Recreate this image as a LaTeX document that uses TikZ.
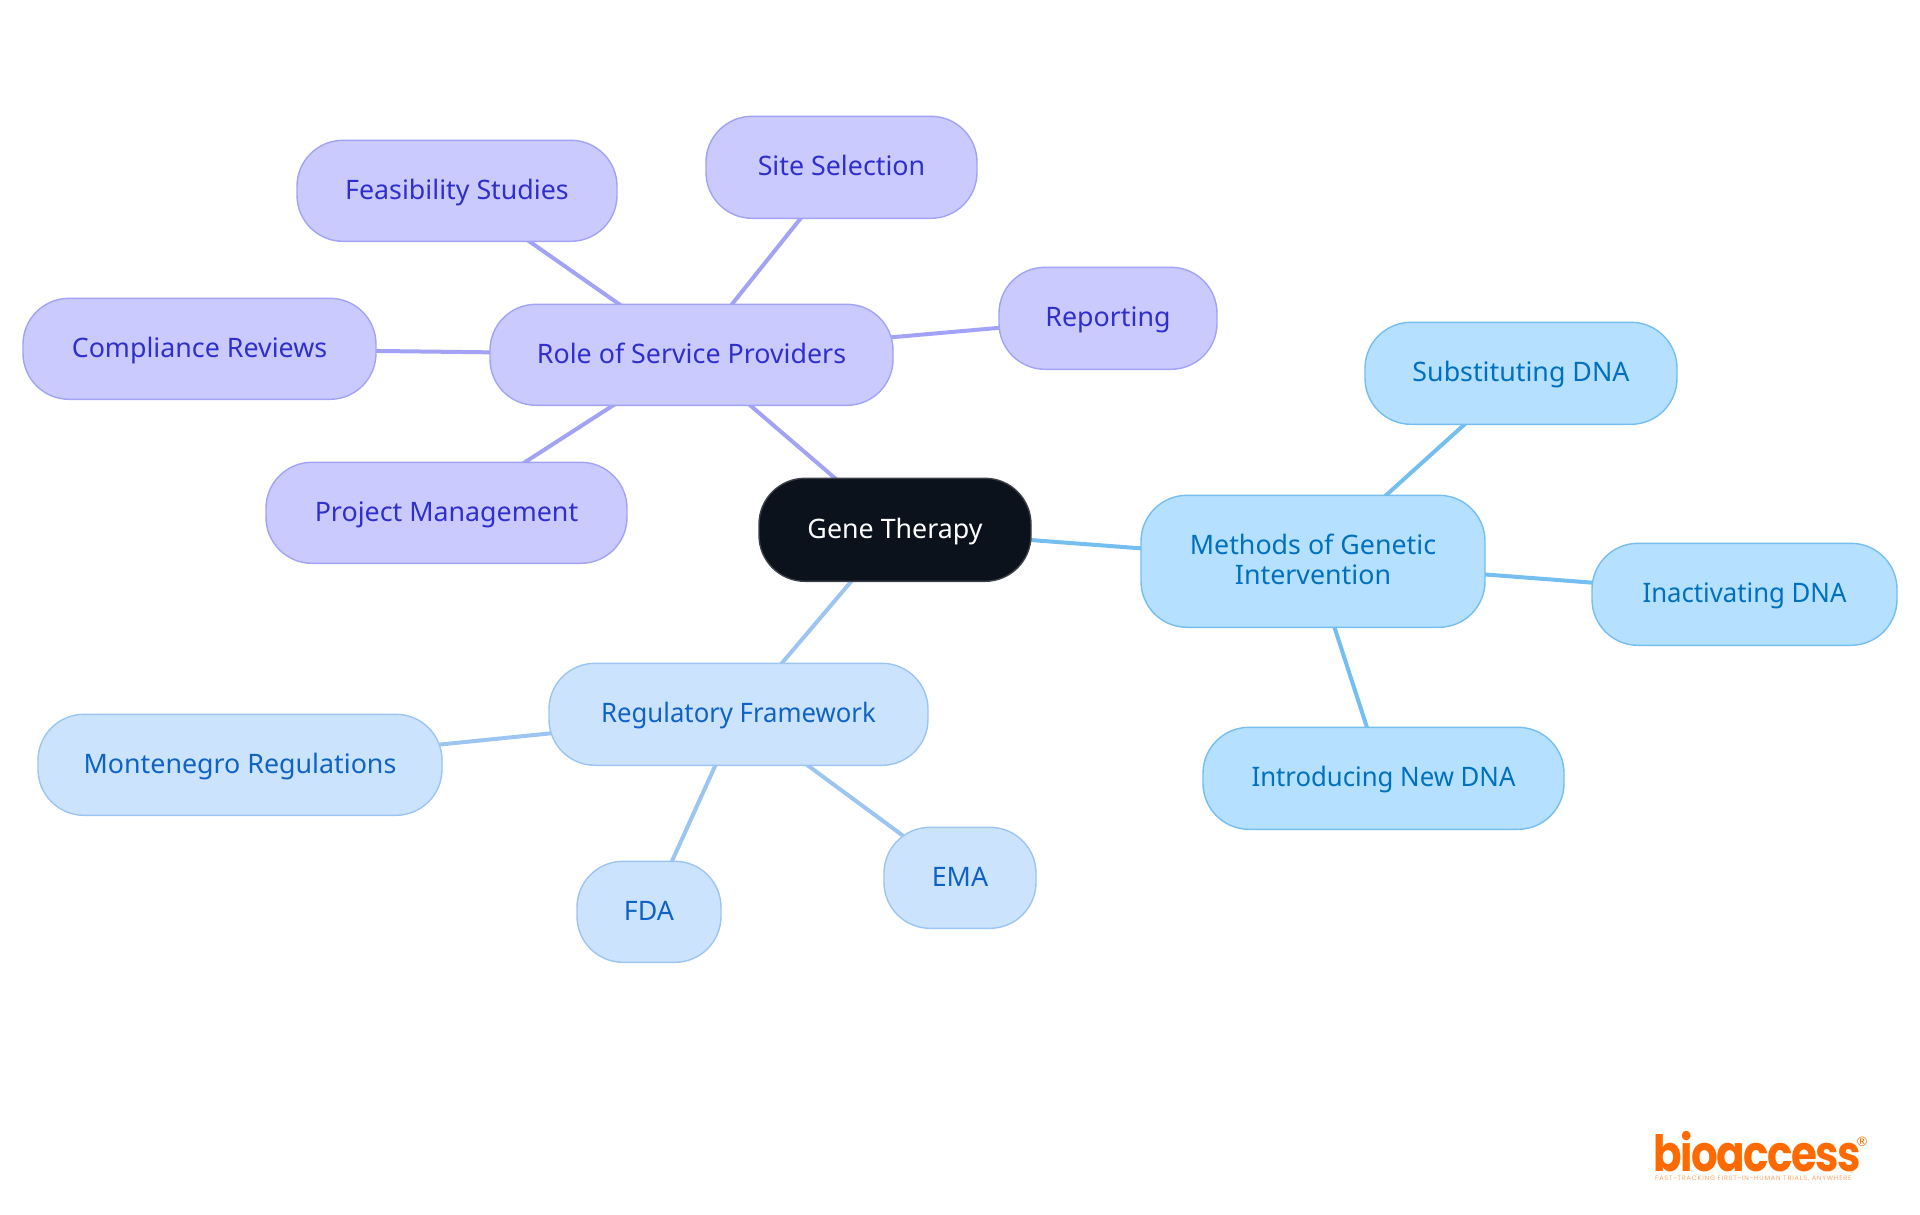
\documentclass[tikz,border=0pt]{standalone}
\usepackage{fontspec}
\setmainfont{Noto Sans}
\newfontfamily\narrowfont[FakeStretch=0.96]{Noto Sans}
\newfontfamily\logofont[FakeStretch=0.84,LetterSpace=-3]{Poppins Bold}
\newfontfamily\regfont{DejaVu Sans}
\newfontfamily\tagfont[LetterSpace=12]{Poppins}
\usetikzlibrary{backgrounds}
\definecolor{pfill}{HTML}{CACAFF}
\definecolor{pline}{HTML}{A3A3F5}
\definecolor{ptext}{HTML}{2F2FCC}
\definecolor{bfill}{HTML}{CCE3FD}
\definecolor{bline}{HTML}{9CC5F2}
\definecolor{btext}{HTML}{0F63C4}
\definecolor{cfill}{HTML}{B5E0FF}
\definecolor{cline}{HTML}{75BEF0}
\definecolor{ctext}{HTML}{0070BF}
\definecolor{dark}{HTML}{0B121B}
\definecolor{logoor}{HTML}{FF6A00}
\newcommand{\st}{\rule[-6.6pt]{0pt}{29.6pt}}
\tikzset{
  x=1pt,y=-1pt,
  mm/.style={rounded corners=46pt,draw,line width=1.4pt,align=center,inner sep=0pt,font=\fontsize{26.8}{30.6}\selectfont},
  pnode/.style={mm,fill=pfill,draw=pline,text=ptext},
  bnode/.style={mm,fill=bfill,draw=bline,text=btext},
  cnode/.style={mm,fill=cfill,draw=cline,text=ctext},
  root/.style={mm,fill=dark,draw=dark!80!white,text=white},
  pedge/.style={draw=pline,line width=4pt},
  bedge/.style={draw=bline,line width=4pt},
  cedge/.style={draw=cline,line width=4pt},
}
\newcommand{\mmnode}[7]{% style, name, x0, y0, x1, y1, text
  \node[#1,minimum width=#5pt-#3pt,minimum height=#6pt-#4pt] (#2) at ({(#3+#5)/2},{(#4+#6)/2+0.3}) {#7};}
\begin{document}
\begin{tikzpicture}
\useasboundingbox (0,0) rectangle (1920,1215);
\mmnode{root}{gene}{759}{478}{1031}{581}{\st Gene Therapy}
\mmnode{pnode}{role}{490}{304}{893}{405}{\st Role of Service Providers}
\mmnode{pnode}{feas}{297}{140}{617}{241}{\st Feasibility Studies}
\mmnode{pnode}{site}{706}{116}{977}{218}{\st Site Selection}
\mmnode{pnode}{repo}{999}{267}{1217}{369}{\st Reporting}
\mmnode{pnode}{comp}{23}{298}{376}{399}{\st Compliance Reviews}
\mmnode{pnode}{proj}{266}{462}{627}{563}{\st Project Management}
\mmnode{cnode}{meth}{1141}{495}{1485}{627}{\st Methods of Genetic\\\st Intervention}
\mmnode{cnode}{subs}{1365}{322}{1677}{424}{\st Substituting DNA}
\mmnode{cnode}{inac}{1592}{543}{1897}{645}{\st\narrowfont Inactivating DNA}
\mmnode{cnode}{intr}{1203}{727}{1564}{829}{\st\narrowfont Introducing New DNA}
\mmnode{bnode}{regu}{549}{663}{928}{765}{\st\narrowfont Regulatory Framework}
\mmnode{bnode}{mont}{38}{714}{442}{815}{\st Montenegro Regulations}
\mmnode{bnode}{fda}{577}{861}{721}{962}{\st FDA}
\mmnode{bnode}{ema}{884}{827}{1036}{928}{\st EMA}
\begin{pgfonlayer}{background}
\draw[pedge] (gene.center) -- (role.center);
\draw[pedge] (role.center) -- (feas.center);
\draw[pedge] (role.center) -- (site.center);
\draw[pedge] (role.center) -- (repo.center);
\draw[pedge] (role.center) -- (comp.center);
\draw[pedge] (role.center) -- (proj.center);
\draw[cedge] (gene.center) -- (meth.center);
\draw[cedge] (meth.center) -- (subs.center);
\draw[cedge] (meth.center) -- (inac.center);
\draw[cedge] (meth.center) -- (intr.center);
\draw[bedge] (gene.center) -- (regu.center);
\draw[bedge] (regu.center) -- (mont.center);
\draw[bedge] (regu.center) -- (fda.center);
\draw[bedge] (regu.center) -- (ema.center);
\end{pgfonlayer}
\node[anchor=base west,inner sep=0pt,text=logoor,font=\logofont\fontsize{50}{50}\selectfont] (logo) at (1653,1171) {bioaccess};
\node[anchor=center,inner sep=0pt,text=logoor,font=\regfont\fontsize{13}{13}\selectfont] (reg) at (1862,1142) {®};
\node[anchor=base west,inner sep=0pt,text=logoor!60!white,font=\tagfont\fontsize{6.5}{7}\selectfont] (tag) at (1655,1180) {FAST-TRACKING FIRST-IN-HUMAN TRIALS, ANYWHERE};
\end{tikzpicture}
\end{document}
